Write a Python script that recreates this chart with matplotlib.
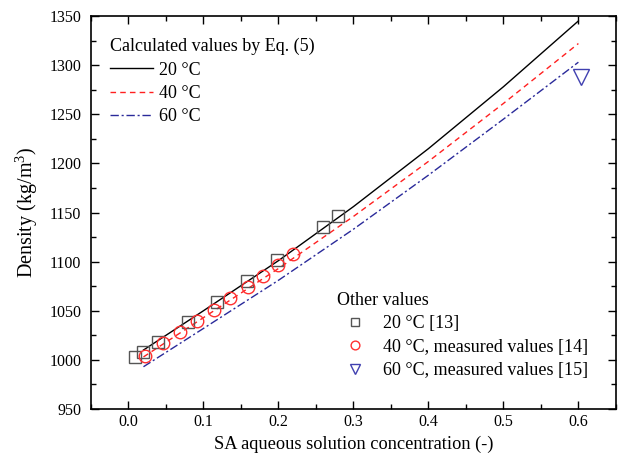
import matplotlib
matplotlib.use("Agg")
import matplotlib.pyplot as plt
from matplotlib.ticker import MultipleLocator

plt.rcParams['font.family'] = ['Liberation Serif', 'DejaVu Serif']
plt.rcParams['font.size'] = 12
plt.rcParams['mathtext.fontset'] = 'custom'
plt.rcParams['mathtext.rm'] = 'Liberation Serif'

# Calculated values by Eq. (5)
calc_x = [0.02, 0.1, 0.2, 0.3, 0.4, 0.5, 0.6]
calc_20 = [1010, 1050, 1101, 1156, 1215, 1278, 1345]
calc_40 = [1003, 1043, 1093, 1146, 1202, 1261, 1322]
calc_60 = [993, 1032, 1081, 1133, 1188, 1245, 1303]

# Other values (markers)
sq_x = [0.009, 0.019, 0.039, 0.08, 0.118, 0.158, 0.198, 0.26, 0.28]
sq_y = [1003, 1008, 1018, 1039, 1059, 1080, 1102, 1135, 1146]
circ_x = [0.022, 0.046, 0.069, 0.092, 0.114, 0.136, 0.159, 0.179, 0.2, 0.22]
circ_y = [1004, 1017, 1028, 1040, 1051, 1063, 1074, 1085, 1097, 1108]
tri_x = [0.604]
tri_y = [1288]

fig = plt.figure(figsize=(6.24, 4.58), dpi=100)
ax = fig.add_axes([0.1458, 0.107, 0.8412, 0.858])

l20, = ax.plot(calc_x, calc_20, color='black', lw=1.0, ls='-')
l40, = ax.plot(calc_x, calc_40, color='#ff2020', lw=1.0, ls=(0, (4, 3)))
l60, = ax.plot(calc_x, calc_60, color='#2a2a9a', lw=1.0, ls=(0, (6, 2, 1.5, 2)))

m20, = ax.plot(sq_x, sq_y, ls='none', marker='s', ms=8, mfc='none', mec='#555555', mew=1.0)
m40, = ax.plot(circ_x, circ_y, ls='none', marker='o', ms=9, mfc='none', mec='#ff3030', mew=1.0)
m60, = ax.plot(tri_x, tri_y, ls='none', marker='v', ms=11, mfc='none', mec='#4040b0', mew=1.0)

ax.set_xlim(-0.05, 0.65)
ax.set_ylim(950, 1350)
ax.xaxis.set_major_locator(MultipleLocator(0.1))
ax.xaxis.set_minor_locator(MultipleLocator(0.05))
ax.yaxis.set_major_locator(MultipleLocator(50))
ax.yaxis.set_minor_locator(MultipleLocator(25))
ax.set_xticks([0.0, 0.1, 0.2, 0.3, 0.4, 0.5, 0.6])
ax.set_xticklabels(['0.0', '0.1', '0.2', '0.3', '0.4', '0.5', '0.6'])
ax.tick_params(which='both', direction='in', top=True, right=True, labelsize=11.5)
ax.tick_params(axis='y', pad=7)
ax.tick_params(which='major', length=6, width=1.0)
ax.tick_params(which='minor', length=3.5, width=1.0)
for s in ax.spines.values():
    s.set_linewidth(1.2)

ax.set_xlabel('SA aqueous solution concentration (-)', fontsize=13.2)
ax.set_ylabel('Density (kg/m$^3$)', fontsize=14.5, labelpad=7)

leg1 = ax.legend([l20, l40, l60], ['20 °C', '40 °C', '60 °C'],
                 title='Calculated values by Eq. (5)', loc='upper left',
                 bbox_to_anchor=(0.005, 0.985), frameon=False, fontsize=13,
                 title_fontsize=13, handlelength=2.4, handletextpad=0.3,
                 labelspacing=0.35, alignment='left')
ax.add_artist(leg1)

ax.legend([m20, m40, m60], ['20 °C [13]', '40 °C, measured values [14]', '60 °C, measured values [15]'],
          title='Other values', loc='lower right', bbox_to_anchor=(0.979, 0.035),
          frameon=False, fontsize=13, title_fontsize=13, markerscale=0.7,
          handlelength=2.0, handletextpad=0.6, labelspacing=0.35, alignment='left')

fig.savefig('out.png', dpi=100)
